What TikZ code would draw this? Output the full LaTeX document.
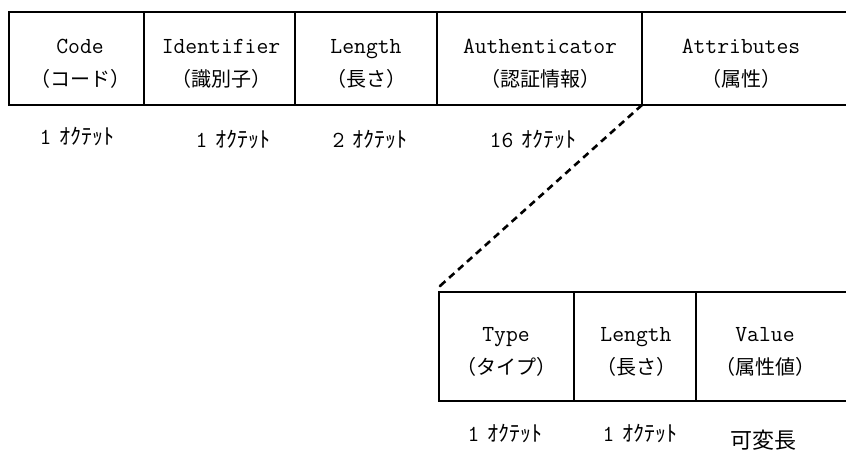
\documentclass[tikz,border=0pt]{standalone}
\usepackage{fontspec}
\setmonofont{Latin Modern Mono}
\newfontfamily\jpf{Noto Sans CJK JP}
\newcommand{\lat}[1]{{\ttfamily\fontsize{23}{33}\selectfont #1}}
\newcommand{\octlab}[1]{\lat{#1}\hspace{8pt}{\jpf\fontsize{22}{22}\selectfont ｵｸﾃｯﾄ}}
\begin{document}
\begin{tikzpicture}[x=1pt,y=-1pt,
  cellbox/.style={draw, line width=1.3pt, anchor=north west, inner sep=0pt, outer sep=0pt},
  toprow/.style={cellbox, minimum height=93pt},
  botrow/.style={cellbox, minimum height=109pt},
  celltext/.style={align=center, inner sep=0pt, font=\fontsize{20}{33}\selectfont},
  octtext/.style={inner sep=0pt, font=\fontsize{20}{24}\selectfont},
  zoomline/.style={line width=2.6pt, dash pattern=on 7pt off 5pt}]
\useasboundingbox (0,0) rectangle (846,454);
\clip (0,0) rectangle (846,454);
% top row
\node[toprow, minimum width=135pt] (code) at (9,12) {};
\node[toprow, minimum width=151pt] (ident) at (144,12) {};
\node[toprow, minimum width=142pt] (len) at (295,12) {};
\node[toprow, minimum width=205pt] (auth) at (437,12) {};
\node[toprow, minimum width=230pt] (attr) at (642,12) {};
\node[celltext] (codeT) at (80,63.5) {\lat{Code}\\{\jpf （コード）}};
\node[celltext] (identT) at (221,63.5) {\lat{Identifier}\\{\jpf （識別子）}};
\node[celltext] (lenT) at (366,63.5) {\lat{Length}\\{\jpf （長さ）}};
\node[celltext] (authT) at (540,63.5) {\lat{Authenticator}\\{\jpf （認証情報）}};
\node[celltext] (attrT) at (741,63.5) {\lat{Attributes}\\{\jpf （属性）}};
% octet labels
\node[octtext] (o1) at (77,136) {\octlab{1}};
\node[octtext] (o2) at (233,139) {\octlab{1}};
\node[octtext] (o3) at (370,139) {\octlab{2}};
\node[octtext] (o4) at (533,139) {\octlab{16}};
% bottom row
\node[botrow, minimum width=135pt] (type) at (439,292) {};
\node[botrow, minimum width=122pt] (blen) at (574,292) {};
\node[botrow, minimum width=180pt] (val) at (696,292) {};
\node[celltext] (typeT) at (506,351.5) {\lat{Type}\\{\jpf （タイプ）}};
\node[celltext] (blenT) at (636,351.5) {\lat{Length}\\{\jpf （長さ）}};
\node[celltext] (valT) at (765,351.5) {\lat{Value}\\{\jpf （属性値）}};
\node[octtext] (o5) at (505,433) {\octlab{1}};
\node[octtext] (o6) at (640,433) {\octlab{1}};
\node[octtext] (o7) at (763,440) {\jpf\fontsize{22}{22}\selectfont 可変長};
% zoom connector
\coordinate (tlvend) at (440,286);
\draw[zoomline] (auth.south east) -- (tlvend);
\fill (tlvend) circle (1.5pt);
\end{tikzpicture}
\end{document}
